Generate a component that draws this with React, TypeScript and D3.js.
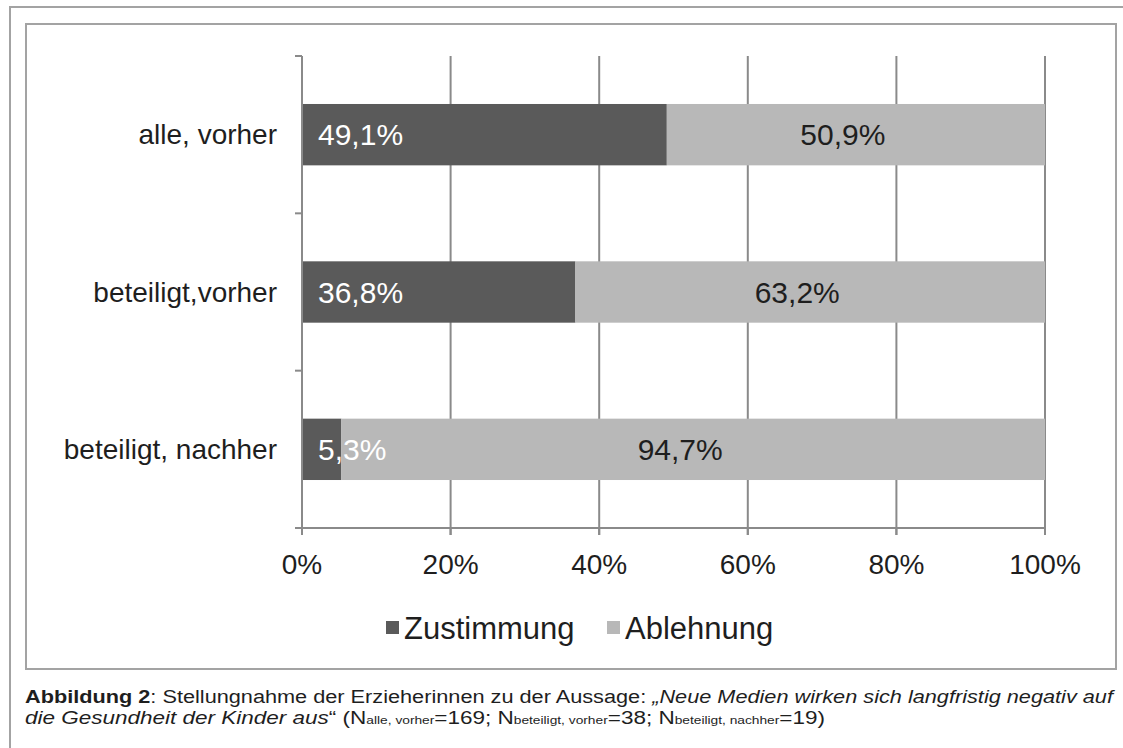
import { useEffect, useRef } from 'react';
import * as d3 from 'd3';

const categories = ['alle, vorher', 'beteiligt,vorher', 'beteiligt, nachher'];
const zustimmung = [49.1, 36.8, 5.3];
const ablehnung = [50.9, 63.2, 94.7];
const zustimmungLabels = ['49,1%', '36,8%', '5,3%'];
const ablehnungLabels = ['50,9%', '63,2%', '94,7%'];
const xTicks = [0, 20, 40, 60, 80, 100];
const seriesNames = ['Zustimmung', 'Ablehnung'];

const W = 1123;
const H = 748;
const DARK = '#5a5a5a';
const LIGHT = '#b8b8b8';
const GRID = '#8a8a8a';
const FRAME = '#a3a3a3';
const FONT = '"Liberation Sans", Arial, sans-serif';

export default function App() {
  const svgRef = useRef<SVGSVGElement>(null);

  useEffect(() => {
    if (!svgRef.current) return;
    const svg = d3.select(svgRef.current);
    svg.selectAll('*').remove();

    // outer page frame + chart frame
    svg.append('rect').attr('width', W).attr('height', H).attr('fill', '#fff');
    svg.append('path')
      .attr('d', `M10,${H} V7 H${W}`)
      .attr('fill', 'none').attr('stroke', FRAME).attr('stroke-width', 2);
    svg.append('rect')
      .attr('x', 26).attr('y', 24).attr('width', 1090).attr('height', 645)
      .attr('fill', '#fff').attr('stroke', FRAME).attr('stroke-width', 2);

    const left = 302, right = 1045, top = 56, bottom = 528;

    const x = d3.scaleLinear().domain([0, 100]).range([left, right]);
    const y = d3.scaleBand<string>()
      .domain(categories)
      .range([top, bottom])
      .paddingInner(0.61)
      .paddingOuter(0.305);

    const rows = categories.map((c, i) => ({ cat: c, Zustimmung: zustimmung[i], Ablehnung: ablehnung[i] }));
    const stack = d3.stack<any>().keys(seriesNames)(rows);

    const g = svg.append('g');

    // gridlines
    g.selectAll('line.grid')
      .data(xTicks.filter((t) => t > 0))
      .join('line')
      .attr('x1', (d) => x(d)).attr('x2', (d) => x(d))
      .attr('y1', top).attr('y2', bottom + 7)
      .attr('stroke', GRID).attr('stroke-width', 2);

    // bars
    const colors = [DARK, LIGHT];
    stack.forEach((layer, si) => {
      g.selectAll(`rect.s${si}`)
        .data(layer)
        .join('rect')
        .attr('x', (d) => x(d[0]))
        .attr('width', (d) => x(d[1]) - x(d[0]))
        .attr('y', (d) => y(d.data.cat)!)
        .attr('height', y.bandwidth())
        .attr('fill', colors[si]);
    });

    // y axis line + ticks at band boundaries
    g.append('line')
      .attr('x1', left).attr('x2', left).attr('y1', top).attr('y2', bottom)
      .attr('stroke', GRID).attr('stroke-width', 2);
    const bounds = d3.range(categories.length + 1).map((i) => top + i * y.step());
    g.selectAll('line.ytick')
      .data(bounds)
      .join('line')
      .attr('x1', left - 7).attr('x2', left)
      .attr('y1', (d) => d).attr('y2', (d) => d)
      .attr('stroke', GRID).attr('stroke-width', 2);

    // x axis line + ticks
    g.append('line')
      .attr('x1', left - 7).attr('x2', right).attr('y1', bottom).attr('y2', bottom)
      .attr('stroke', GRID).attr('stroke-width', 2);
    g.selectAll('line.xtick')
      .data(xTicks)
      .join('line')
      .attr('x1', (d) => x(d)).attr('x2', (d) => x(d))
      .attr('y1', bottom).attr('y2', bottom + 7)
      .attr('stroke', GRID).attr('stroke-width', 2);

    g.selectAll('text.xlab')
      .data(xTicks)
      .join('text')
      .attr('x', (d) => x(d))
      .attr('y', bottom + 46)
      .attr('text-anchor', 'middle')
      .attr('font-family', FONT).attr('font-size', 28).attr('fill', '#1e1e1e')
      .text((d) => `${d}%`);

    // category labels
    g.selectAll('text.ylab')
      .data(categories)
      .join('text')
      .attr('x', left - 25)
      .attr('y', (d) => y(d)! + y.bandwidth() / 2)
      .attr('dy', '0.35em')
      .attr('text-anchor', 'end')
      .attr('font-family', FONT).attr('font-size', 28).attr('fill', '#1e1e1e')
      .text((d) => d);

    // data labels
    g.selectAll('text.zlab')
      .data(categories)
      .join('text')
      .attr('x', x(0) + 16)
      .attr('y', (d) => y(d)! + y.bandwidth() / 2)
      .attr('dy', '0.35em')
      .attr('font-family', FONT).attr('font-size', 30).attr('fill', '#fff')
      .text((_, i) => zustimmungLabels[i]);
    g.selectAll('text.alab')
      .data(categories)
      .join('text')
      .attr('x', (_, i) => (x(zustimmung[i]) + x(100)) / 2 - 13)
      .attr('y', (d) => y(d)! + y.bandwidth() / 2)
      .attr('dy', '0.35em')
      .attr('text-anchor', 'middle')
      .attr('font-family', FONT).attr('font-size', 30).attr('fill', '#1e1e1e')
      .text((_, i) => ablehnungLabels[i]);

    // legend
    const legendX = [386, 607];
    const leg = g.selectAll('g.leg')
      .data(seriesNames)
      .join('g')
      .attr('transform', (_, i) => `translate(${legendX[i]},628)`);
    leg.append('rect')
      .attr('x', 0).attr('y', -7).attr('width', 13).attr('height', 13)
      .attr('fill', (_, i) => colors[i]);
    leg.append('text')
      .attr('x', 18).attr('dy', '0.35em')
      .attr('font-family', FONT).attr('font-size', 31).attr('fill', '#1e1e1e')
      .text((d) => d);

    // caption
    const cap1 = svg.append('text')
      .attr('x', 25).attr('y', 703)
      .attr('font-family', FONT).attr('font-size', 18).attr('fill', '#1e1e1e')
      .attr('textLength', 1088).attr('lengthAdjust', 'spacingAndGlyphs');
    cap1.append('tspan').attr('font-weight', 'bold').text('Abbildung 2');
    cap1.append('tspan').text(': Stellungnahme der Erzieherinnen zu der Aussage: ');
    cap1.append('tspan').attr('font-style', 'italic').text('„Neue Medien wirken sich langfristig negativ auf');

    const cap2 = svg.append('text')
      .attr('x', 25).attr('y', 724)
      .attr('font-family', FONT).attr('font-size', 18).attr('fill', '#1e1e1e')
      .attr('textLength', 800).attr('lengthAdjust', 'spacingAndGlyphs');
    cap2.append('tspan').attr('font-style', 'italic').text('die Gesundheit der Kinder aus');
    cap2.append('tspan').text('“ (N');
    cap2.append('tspan').attr('font-size', 11).text('alle, vorher');
    cap2.append('tspan').text('=169; N');
    cap2.append('tspan').attr('font-size', 11).text('beteiligt, vorher');
    cap2.append('tspan').text('=38; N');
    cap2.append('tspan').attr('font-size', 11).text('beteiligt, nachher');
    cap2.append('tspan').text('=19)');
  }, []);

  return (
    <svg
      ref={svgRef}
      width={W}
      height={H}
      style={{ position: 'absolute', left: 0, top: 0, display: 'block' }}
    />
  );
}
